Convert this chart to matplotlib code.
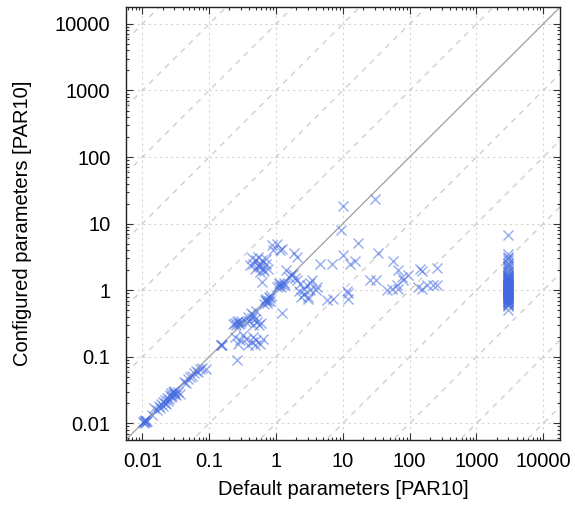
import matplotlib.pyplot as plt
import numpy as np
from matplotlib.ticker import FixedLocator, FixedFormatter, LogLocator, NullFormatter

plt.rcParams['font.family'] = ['Liberation Sans', 'DejaVu Sans']

# axis ticks (same on both axes)
ticks = [0.01, 0.1, 1, 10, 100, 1000, 10000]
tick_labels = ['0.01', '0.1', '1', '10', '100', '1000', '10000']

# instances close to the diagonal, small runtimes
low_x = [0.0102, 0.0106, 0.0110, 0.0108, 0.0113, 0.0104, 0.0118, 0.0140, 0.0150,
         0.0165, 0.0175, 0.0185, 0.0190, 0.0200, 0.0205, 0.0215, 0.0220, 0.0225,
         0.0235, 0.0240, 0.0250, 0.0255, 0.0265, 0.0270, 0.0280, 0.0285, 0.0295,
         0.0300, 0.0310, 0.0320, 0.0340, 0.0360, 0.0420, 0.0450, 0.0480, 0.0520,
         0.0560, 0.0600, 0.0640, 0.0680, 0.0720, 0.0780, 0.0880]
low_y = [0.0104, 0.0101, 0.0108, 0.0112, 0.0103, 0.0107, 0.0110, 0.0135, 0.0170,
         0.0160, 0.0180, 0.0170, 0.0195, 0.0185, 0.0210, 0.0200, 0.0225, 0.0195,
         0.0240, 0.0215, 0.0230, 0.0270, 0.0250, 0.0290, 0.0260, 0.0300, 0.0275,
         0.0310, 0.0285, 0.0265, 0.0300, 0.0275, 0.0420, 0.0400, 0.0470, 0.0500,
         0.0520, 0.0580, 0.0620, 0.0600, 0.0650, 0.0680, 0.0650]

# instances between 0.1 and ~1.4 s
mid_x = [0.150, 0.155, 0.148, 0.26,
         0.244, 0.29, 0.27, 0.36, 0.43, 0.46, 0.51, 0.57, 0.64, 0.38, 0.32, 0.48,
         0.24, 0.26, 0.28, 0.30, 0.25, 0.27, 0.29, 0.23,
         0.38, 0.42, 0.45, 0.40, 0.48, 0.52, 0.55, 0.60, 0.45, 0.50, 0.43, 0.36,
         0.65, 0.70, 0.72, 0.75, 0.78, 0.80, 0.68, 0.85, 0.74, 0.82,
         1.23,
         1.10, 1.15, 1.20, 1.25, 1.30, 1.12, 1.35, 1.05]
mid_y = [0.148, 0.152, 0.150, 0.089,
         0.199, 0.178, 0.158, 0.188, 0.168, 0.199, 0.178, 0.158, 0.188, 0.149, 0.21, 0.149,
         0.32, 0.33, 0.31, 0.34, 0.30, 0.35, 0.32, 0.31,
         0.40, 0.45, 0.42, 0.35, 0.37, 0.33, 0.30, 0.32, 0.30, 0.48, 0.38, 0.33,
         0.62, 0.68, 0.74, 0.70, 0.80, 0.76, 0.72, 0.82, 0.65, 0.70,
         0.45,
         1.15, 1.22, 1.12, 1.20, 1.28, 1.30, 1.18, 1.10]

# configured slower than default
up_x = [0.86, 1.03, 1.16, 0.91, 1.22, 1.83, 2.04, 0.41, 0.48, 0.57, 0.64, 0.72,
        0.61, 0.51, 0.57, 0.61, 0.76, 0.54, 0.46, 0.44, 0.53, 0.58, 0.66, 0.70]
up_y = [4.7, 5.0, 4.0, 4.0, 4.2, 3.6, 3.1, 2.38, 2.11, 2.5, 2.11, 2.5,
        2.82, 2.82, 1.89, 1.33, 2.11, 3.16, 2.5, 3.0, 2.3, 2.2, 1.95, 2.9]

# configured faster than default
fast_x = [1.40, 1.57, 1.67, 1.8, 1.94, 2.04, 2.2, 2.3, 2.4, 2.6, 2.6, 2.9, 3.0, 3.0,
          3.2, 3.2, 3.4, 3.9, 4.1, 4.56, 5.7, 7.0, 7.2, 9.3, 10.2, 10.2,
          11.4, 12.1, 12.6, 12.0, 15.4, 17.1, 25.5, 30.3, 31.6, 34, 45.4, 54, 55.8,
          64, 67.6, 67.6, 76, 80, 95.6, 135, 143, 151, 155, 180, 226, 254, 254]
fast_y = [2.0, 1.58, 1.67, 1.78, 1.5, 1.41, 0.96, 1.26, 0.8, 1.06, 0.89, 1.19, 0.75, 0.79,
          1.0, 1.27, 1.41, 1.0, 1.13, 2.5, 0.71, 2.5, 0.75, 7.95, 18.2, 3.35,
          0.96, 0.75, 2.5, 0.9, 2.75, 5.1, 1.41, 23.7, 1.44, 3.6, 1.0, 1.06, 2.72,
          1.19, 1.06, 2.0, 1.58, 1.41, 1.68, 1.13, 2.11, 1.06, 1.95, 1.19, 1.19, 2.19, 1.19]

# default runs that timed out (PAR10 = 3000)
timeout_x = 3000
timeout_y = [6.7, 3.5, 3.2, 3.0, 2.8, 2.6, 2.45, 2.3, 2.2, 2.05, 1.95, 1.85, 1.75, 1.7,
             1.66, 1.62, 1.58, 1.55, 1.52, 1.5, 1.47, 1.44, 1.42, 1.4, 1.37, 1.35, 1.32,
             1.3, 1.28, 1.26, 1.24, 1.22, 1.2, 1.18, 1.16, 1.15, 1.13, 1.12, 1.1, 1.08,
             1.07, 1.05, 1.04, 1.02, 1.01, 1.0, 0.99, 0.98, 0.96, 0.95, 0.93, 0.92, 0.9,
             0.89, 0.87, 0.86, 0.85, 0.83, 0.82, 0.8, 0.79, 0.77, 0.76, 0.75, 0.73, 0.72,
             0.7, 0.69, 0.68, 0.66, 0.65, 0.63, 0.62, 0.6, 0.57, 0.5]

xs = low_x + mid_x + up_x + fast_x + [timeout_x] * len(timeout_y)
ys = low_y + mid_y + up_y + fast_y + timeout_y

lim = (10 ** -2.25, 10 ** 4.25)

fig = plt.figure(figsize=(5.75, 5.08), dpi=100)
ax = fig.add_axes([0.2186, 0.1339, 0.7553, 0.8518])
ax.set_xscale('log')
ax.set_yscale('log')

# diagonal: equal runtime, dashed: factors of 10
ref = np.array(lim)
for k in range(-6, 7):
    if k == 0:
        ax.plot(ref, ref, color='#a6a6a6', lw=1.0, zorder=2)
    else:
        ax.plot(ref, ref * 10.0 ** k, color='#cfcfcf', lw=1.0,
                ls=(0, (4, 4)), zorder=1)

ax.scatter(xs, ys, marker='x', s=52, c='royalblue', alpha=0.55,
           linewidths=1.0, zorder=3)

ax.set_xlim(lim)
ax.set_ylim(lim)

for axis in (ax.xaxis, ax.yaxis):
    axis.set_major_locator(FixedLocator(ticks))
    axis.set_major_formatter(FixedFormatter(tick_labels))
    axis.set_minor_locator(LogLocator(base=10, subs=np.arange(2, 10), numticks=20))
    axis.set_minor_formatter(NullFormatter())

ax.grid(True, which='major', color='#d4d4d4', ls=(0, (2, 3)), lw=0.8)
ax.set_axisbelow(True)

ax.tick_params(which='both', direction='in', top=True, right=True,
               labelsize=14.5, color='#333333', width=0.8)
ax.tick_params(which='major', length=5)
ax.tick_params(which='minor', length=2.5)
ax.tick_params(axis='x', pad=9)
ax.tick_params(axis='y', pad=11)
for s in ax.spines.values():
    s.set_color('#222222')
    s.set_linewidth(1.0)

ax.set_xlabel('Default parameters [PAR10]', fontsize=14.5)
ax.set_ylabel('Configured parameters [PAR10]', fontsize=14.5)
ax.xaxis.set_label_coords(0.5, -0.093)
ax.yaxis.set_label_coords(-0.2157, 0.5)

fig.savefig('out.png', dpi=100)
